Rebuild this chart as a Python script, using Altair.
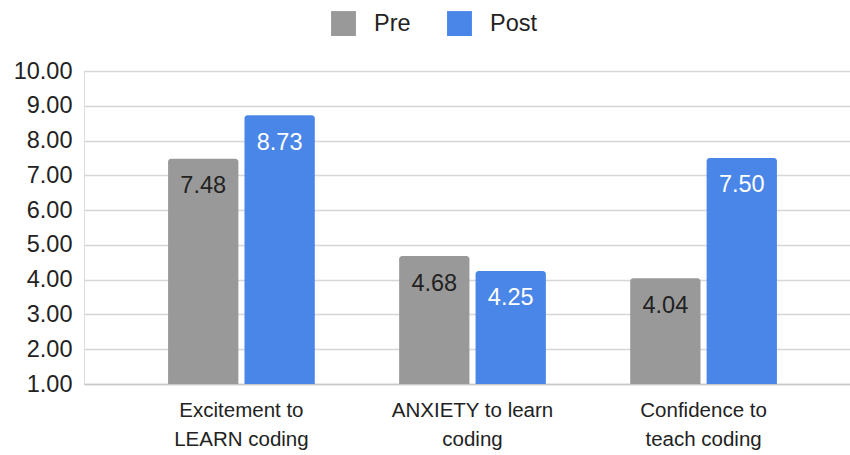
import altair as alt
import pandas as pd

categories = ["Excitement to LEARN coding", "ANXIETY to learn coding", "Confidence to teach coding"]
category_lines = [["Excitement to", "LEARN coding"], ["ANXIETY to learn", "coding"], ["Confidence to", "teach coding"]]
series = ["Pre", "Post"]
pre_values = [7.48, 4.68, 4.04]
post_values = [8.73, 4.25, 7.50]
y_ticks = [1, 2, 3, 4, 5, 6, 7, 8, 9, 10]

rows = []
for c, pv, qv in zip(categories, pre_values, post_values):
    rows.append({"category": c, "series": "Pre", "value": pv, "label": f"{pv:.2f}"})
    rows.append({"category": c, "series": "Post", "value": qv, "label": f"{qv:.2f}"})
df = pd.DataFrame(rows)

label_expr = ""
for c, lines in zip(categories, category_lines):
    arr = "[" + ",".join(f"'{l}'" for l in lines) + "]"
    label_expr += f"datum.value == '{c}' ? {arr} : "
label_expr += "datum.label"

FONT = "Liberation Sans"

x = alt.X("category:N", sort=categories, title=None,
          scale=alt.Scale(paddingInner=0.365, paddingOuter=0.34, align=0.535),
          axis=alt.Axis(labelAngle=0, labelExpr=label_expr, labelFontSize=20.5, labelColor="#222222",
                        labelFont=FONT, labelLineHeight=29, labelPadding=16, labelBaseline="top",
                        ticks=False, domainColor="#c8c8c8", domainWidth=1.5, labelLimit=300))
xo = alt.XOffset("series:N", sort=series, scale=alt.Scale(paddingInner=0.08, paddingOuter=0))
y = alt.Y("value:Q", title=None,
          scale=alt.Scale(domain=[1, 10], zero=False, nice=False),
          axis=alt.Axis(values=y_ticks, format=".2f", labelFontSize=23.5, labelColor="#222222",
                        labelFont=FONT, labelPadding=12, ticks=False, domain=False,
                        labelOverlap=False, labelBound=False, labelFlush=False,
                        gridColor="#d6d6d6", gridWidth=1.5))

color = alt.Color("series:N", sort=series, title=None,
                  scale=alt.Scale(domain=series, range=["#999999", "#4a86e8"]),
                  legend=alt.Legend(orient="none", direction="horizontal", legendX=247, legendY=-60,
                                    symbolType="square", symbolSize=620, symbolStrokeWidth=0,
                                    symbolOpacity=1, labelFontSize=23.5, labelFont=FONT,
                                    labelColor="#222222", labelOffset=18, columnPadding=36,
                                    padding=0))

base = alt.Chart(df).encode(x=x, xOffset=xo, y=y)

bars = base.mark_bar(cornerRadiusTopLeft=3, cornerRadiusTopRight=3).encode(
    y2=alt.datum(1), color=color
)

text = base.mark_text(fontSize=23.5, font=FONT, baseline="middle", dy=27.5).encode(
    text="label:N",
    color=alt.condition(alt.datum.series == "Pre", alt.value("#222222"), alt.value("#ffffff")),
)

chart = alt.layer(bars, text).properties(
    width=766, height=313,
    autosize=alt.AutoSizeParams(type="none"),
    padding={"left": 84, "top": 71, "right": 0, "bottom": 71},
).configure_view(stroke=None).configure(background="white")

chart.save("out.html", embed_options={"renderer": "svg", "actions": False})
